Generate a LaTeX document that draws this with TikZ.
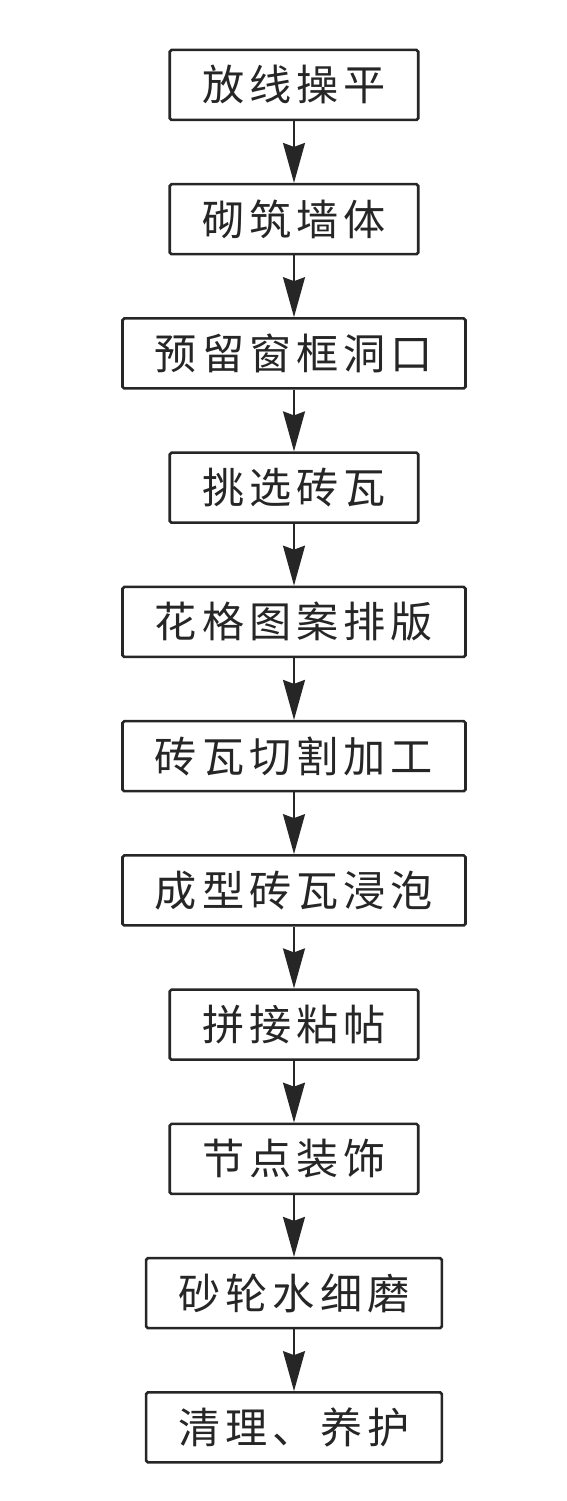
\documentclass[tikz,border=0pt]{standalone}
\usepackage{fontspec}
\newfontfamily\cjk[LetterSpace=12]{Noto Sans CJK SC}
\usetikzlibrary{arrows.meta, positioning}

\begin{document}
\begin{tikzpicture}[
    node distance=1.85cm,
    block/.style={rectangle, draw=black!85, line width=2.2pt, rounded corners=1.5pt, minimum height=2.1cm, inner xsep=0.97cm, text=black!85, font=\cjk\fontsize{36}{40}\selectfont},
    arrow/.style={-{Stealth[length=1.2cm, width=0.66cm, inset=0.12cm]}, line width=1.6pt, black!85}
  ]
  \useasboundingbox (0,0) rectangle (17.01,-45.03);

  \node (fangxian) [block, anchor=north] at (8.82,-1.46) {放线操平};
  \node (qizhu) [block, below=of fangxian] {砌筑墙体};
  \node (yuliu) [block, below=of qizhu] {预留窗框洞口};
  \node (tiaoxuan) [block, below=of yuliu] {挑选砖瓦};
  \node (huage) [block, below=of tiaoxuan] {花格图案排版};
  \node (qiege) [block, below=of huage] {砖瓦切割加工};
  \node (jinpao) [block, below=of qiege] {成型砖瓦浸泡};
  \node (pinjie) [block, below=of jinpao] {拼接粘帖};
  \node (jiedian) [block, below=of pinjie] {节点装饰};
  \node (ximo) [block, below=of jiedian] {砂轮水细磨};
  \node (qingli) [block, below=of ximo] {清理、养护};

  \draw [arrow] (fangxian) -- (qizhu);
  \draw [arrow] (qizhu) -- (yuliu);
  \draw [arrow] (yuliu) -- (tiaoxuan);
  \draw [arrow] (tiaoxuan) -- (huage);
  \draw [arrow] (huage) -- (qiege);
  \draw [arrow] (qiege) -- (jinpao);
  \draw [arrow] (jinpao) -- (pinjie);
  \draw [arrow] (pinjie) -- (jiedian);
  \draw [arrow] (jiedian) -- (ximo);
  \draw [arrow] (ximo) -- (qingli);
\end{tikzpicture}
\end{document}
